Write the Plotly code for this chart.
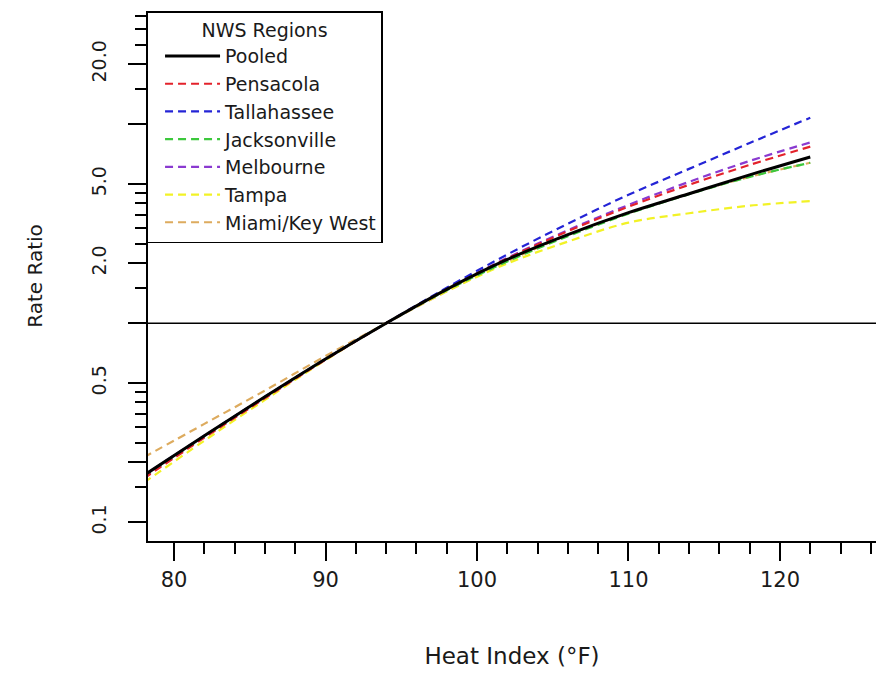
import plotly.graph_objects as go

heat_index = [78, 82, 86, 90, 94, 98, 102, 106, 110, 114, 118, 122]

pooled       = [0.172, 0.272, 0.427, 0.661, 1.00, 1.479, 2.089, 2.786, 3.589, 4.467, 5.559, 6.839]
pensacola    = [0.166, 0.266, 0.420, 0.656, 1.00, 1.479, 2.113, 2.897, 3.846, 4.955, 6.237, 7.709]
tallahassee  = [0.172, 0.272, 0.427, 0.661, 1.00, 1.507, 2.213, 3.162, 4.416, 5.957, 8.035, 10.76]
jacksonville = [0.170, 0.270, 0.425, 0.659, 1.00, 1.462, 2.042, 2.735, 3.548, 4.446, 5.433, 6.397]
melbourne    = [0.168, 0.268, 0.422, 0.658, 1.00, 1.483, 2.128, 2.931, 3.926, 5.129, 6.531, 8.091]
tampa        = [0.158, 0.257, 0.412, 0.652, 1.00, 1.445, 1.995, 2.570, 3.199, 3.565, 3.890, 4.102]
miami        = [0.212, 0.312, 0.459, 0.684, 1.00, 1.445, 2.042, 2.773, 3.573, 4.467, 5.433, 6.397]

series_names = ["Pooled", "Pensacola", "Tallahassee", "Jacksonville", "Melbourne", "Tampa", "Miami/Key West"]
series_values = [pooled, pensacola, tallahassee, jacksonville, melbourne, tampa, miami]
series_colors = ["#000000", "#E3222B", "#2424D6", "#3CC83C", "#8A3AD0", "#F2F226", "#DDAB5E"]

y_tickvals = [0.1, 0.2, 0.5, 1, 2, 5, 10, 20]
y_ticktext = ["0.1", "", "0.5", "", "2.0", "5.0", "", "20.0"]
y_minorvals = [0.15, 0.25, 0.3, 0.35, 0.4, 0.45, 1.5, 2.5, 3, 3.5, 4, 4.5, 15, 25, 30, 35]
x_tickvals = [80, 90, 100, 110, 120]
x_minorvals = [82, 84, 86, 88, 92, 94, 96, 98, 102, 104, 106, 108, 112, 114, 116, 118, 122, 124, 126]

FONT = "DejaVu Sans, Liberation Sans, sans-serif"
TXT = "#1a1a1a"

fig = go.Figure()
# regional curves first (dashed), pooled drawn last on top
for i in range(len(series_names) - 1, -1, -1):
    is_pooled = (i == 0)
    fig.add_trace(go.Scatter(
        x=heat_index, y=series_values[i], mode="lines", name=series_names[i],
        legendrank=i + 1,
        line=dict(color=series_colors[i], width=3 if is_pooled else 2.2,
                  dash="solid" if is_pooled else "8px,5px", shape="spline", smoothing=1.0),
    ))

fig.add_shape(type="line", xref="paper", x0=0, x1=1, yref="y", y0=1, y1=1,
              line=dict(color="black", width=1.5), layer="below")

fig.update_layout(
    width=876, height=673, autosize=False,
    margin=dict(l=148, r=0, t=11, b=132),
    paper_bgcolor="white", plot_bgcolor="white",
    font=dict(family=FONT, color=TXT, size=18),
    showlegend=True,
    legend=dict(
        x=-0.002, y=1, xref="paper", yref="paper", xanchor="left", yanchor="top",
        bgcolor="white", bordercolor="black", borderwidth=1.5,
        font=dict(family=FONT, size=19, color=TXT),
        title=dict(text="NWS Regions", side="top center", font=dict(family=FONT, size=19, color=TXT)),
        itemwidth=55, indentation=12, traceorder="normal",
    ),
    xaxis=dict(
        range=[78.28, 126.34], showgrid=False, zeroline=False,
        showline=True, linecolor="black", linewidth=2,
        tickmode="array", tickvals=x_tickvals, ticks="outside", ticklen=18, tickwidth=2,
        tickcolor="black", tickfont=dict(family=FONT, size=21, color=TXT), ticklabelstandoff=1,
        minor=dict(tickmode="array", tickvals=x_minorvals, ticks="outside", ticklen=11,
                   tickwidth=2, tickcolor="black", showgrid=False),
        title=dict(text="Heat Index (°F)", font=dict(family=FONT, size=23, color=TXT), standoff=57),
    ),
    yaxis=dict(
        type="log", range=[-1.094, 1.568], showgrid=False, zeroline=False,
        showline=True, linecolor="black", linewidth=2,
        tickmode="array", tickvals=y_tickvals, ticktext=y_ticktext, tickangle=-90,
        ticks="outside", ticklen=18, tickwidth=2, tickcolor="black",
        tickfont=dict(family=FONT, size=19, color=TXT), ticklabelstandoff=14,
        minor=dict(tickmode="array", tickvals=y_minorvals, ticks="outside", ticklen=11,
                   tickwidth=2, tickcolor="black", showgrid=False),
        title=dict(text="Rate Ratio", font=dict(family=FONT, size=20, color=TXT), standoff=40),
    ),
)

fig.write_html("out.html")
